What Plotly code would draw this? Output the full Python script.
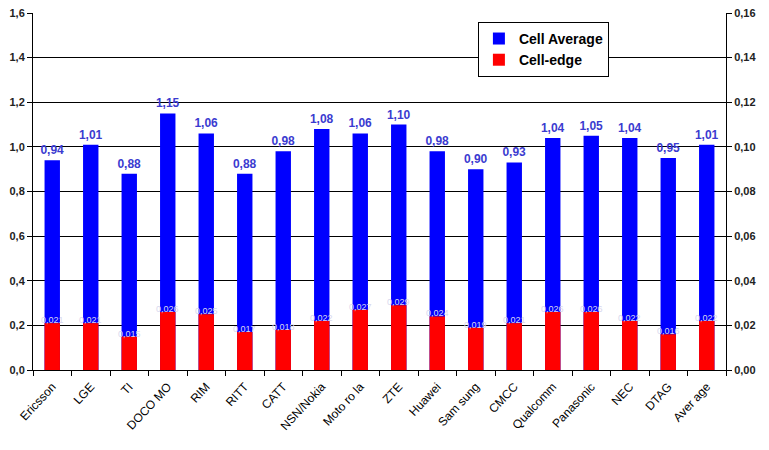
import plotly.graph_objects as go

companies = ["Ericsson", "LGE", "TI", "DOCOMO", "RIM", "RITT", "CATT", "NSN/Nokia",
             "Motorola", "ZTE", "Huawei", "Samsung", "CMCC", "Qualcomm", "Panasonic",
             "NEC", "DTAG", "Average"]
tick_labels = ["Ericsson", "LGE", "TI", "DOCO MO", "RIM", "RITT", "CATT", "NSN/Nokia",
               "Moto ro la", "ZTE", "Huawei", "Sam sung", "CMCC", "Qualcomm", "Panasonic",
               "NEC", "DTAG", "Aver age"]
cell_average = [0.94, 1.01, 0.88, 1.15, 1.06, 0.88, 0.98, 1.08, 1.06, 1.10, 0.98, 0.90,
                0.93, 1.04, 1.05, 1.04, 0.95, 1.01]
cell_edge = [0.021, 0.021, 0.015, 0.026, 0.025, 0.017, 0.018, 0.022, 0.027, 0.029, 0.024,
             0.019, 0.021, 0.026, 0.026, 0.022, 0.016, 0.022]

def fmt(v, d):
    return f"{v:.{d}f}".replace(".", ",")

font_family = "Liberation Sans, Arial, sans-serif"

fig = go.Figure()
fig.add_trace(go.Bar(
    x=companies, y=cell_average, name="Cell Average", yaxis="y",
    marker=dict(color="#0000ff", line=dict(width=0)), width=0.4,
    text=[fmt(v, 2) for v in cell_average], textposition="outside",
    constraintext="none",
    textfont=dict(color="#3b3bd0", size=12, family=font_family, weight="bold"),
    cliponaxis=False,
))
fig.add_trace(go.Bar(
    x=companies, y=cell_edge, name="Cell-edge", yaxis="y2",
    marker=dict(color="#ff0000", line=dict(width=0)), width=0.4,
))

for c, v in zip(companies, cell_edge):
    fig.add_annotation(x=c, y=v, yref="y2", xref="x", text=fmt(v, 3), showarrow=False,
                       font=dict(size=9, color="#d8d8ee", family=font_family),
                       yshift=3)

fig.update_layout(
    width=769, height=450,
    margin=dict(l=33, r=43, t=7, b=80),
    paper_bgcolor="white", plot_bgcolor="white",
    barmode="overlay",
    separators=", ",
    showlegend=True,
    font=dict(family=font_family, color="#000"),
    legend=dict(
        x=0.642, y=0.975, xanchor="left", yanchor="top",
        bgcolor="white", bordercolor="#000", borderwidth=1,
        font=dict(size=14, family=font_family, weight="bold", color="#000"),
        itemsizing="constant", tracegroupgap=0,
    ),
    xaxis=dict(
        tickmode="array", tickvals=companies, ticktext=tick_labels,
        tickangle=-47, tickfont=dict(size=12, family=font_family, color="#000"),
        ticklabelstandoff=4,
        showline=True, linecolor="#000", linewidth=1,
        ticks="outside", tickson="boundaries", ticklen=5, tickcolor="#000",
        showgrid=False, range=[-0.5, 17.5],
    ),
    yaxis=dict(
        range=[0, 1.6], dtick=0.2, tickformat=".1f",
        showline=True, linecolor="#000", linewidth=1,
        ticks="outside", ticklen=5, tickcolor="#000",
        showgrid=True, gridcolor="#000", gridwidth=1, zeroline=False,
        tickfont=dict(size=11, family=font_family, color="#222", weight="bold"),
    ),
    yaxis2=dict(
        range=[0, 0.16], dtick=0.02, tickformat=".2f", overlaying="y", side="right",
        showline=True, linecolor="#000", linewidth=1,
        ticks="outside", ticklen=5, tickcolor="#000",
        showgrid=False, zeroline=False,
        tickfont=dict(size=11, family=font_family, color="#222", weight="bold"),
    ),
)

fig.write_html("out.html")
